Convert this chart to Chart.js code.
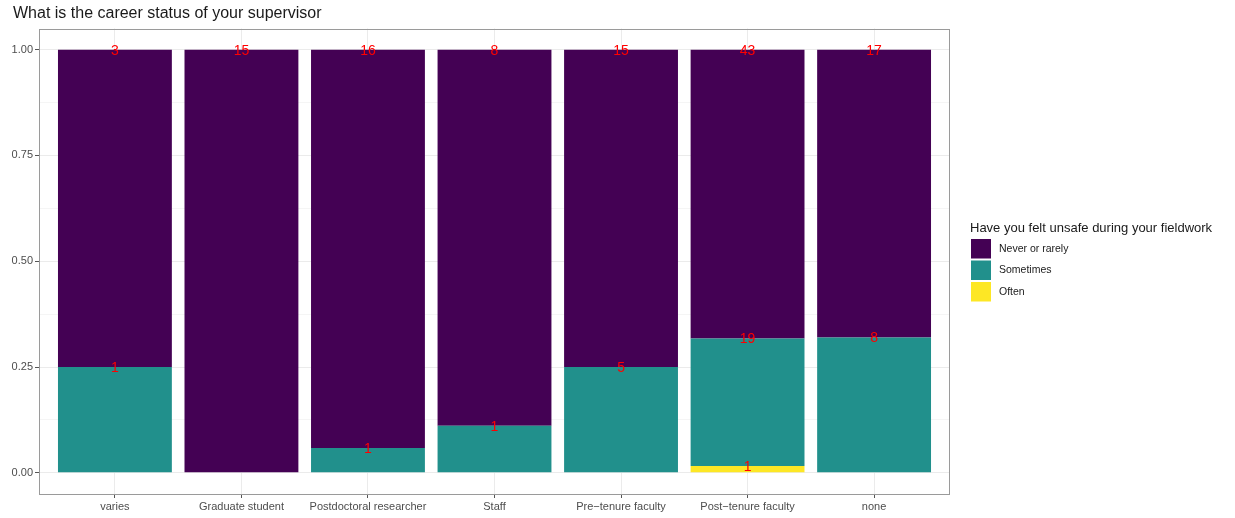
<!DOCTYPE html>
<html><head><meta charset="utf-8">
<script src="https://cdn.jsdelivr.net/npm/chart.js@4/dist/chart.umd.min.js"></script>
<style>html,body{margin:0;padding:0;background:#fff}#wrap{width:1235px;height:518px;position:relative}</style>
</head><body><div id="wrap"><canvas id="c"></canvas></div>
<script>
const chartTitle = "What is the career status of your supervisor";
const categories = ["varies","Graduate student","Postdoctoral researcher","Staff","Pre\u2212tenure faculty","Post\u2212tenure faculty","none"];
const neverRarely = [3,15,16,8,15,43,17];
const sometimes   = [1,0,1,1,5,19,8];
const often       = [0,0,0,0,0,1,0];
const seriesNames = ["Never or rarely","Sometimes","Often"];
const seriesColors = ["#440154","#21908C","#FDE725"];
const legendTitle = "Have you felt unsafe during your fieldwork";
const yMajorTicks = [0,0.25,0.5,0.75,1];
const yMinorTicks = [0.125,0.375,0.625,0.875];

const totals = categories.map((_, i) => neverRarely[i] + sometimes[i] + often[i]);
const toPoints = arr => arr.map((v, i) => ({x: i, y: v / totals[i]}));
const countsBySeries = [neverRarely, sometimes, often];

// stacking order: bottom "Often", then "Sometimes", top "Never or rarely"
const stackOrder = [2, 1, 0];
const datasets = stackOrder.map(s => ({
  label: seriesNames[s],
  data: toPoints(countsBySeries[s]),
  counts: countsBySeries[s],
  backgroundColor: seriesColors[s],
  borderWidth: 0,
  categoryPercentage: 1,
  barPercentage: 0.9
}));

const FONT = "'Liberation Sans', Arial, Helvetica, sans-serif";
Chart.defaults.font.family = FONT;

const isMajor = v => yMajorTicks.some(t => Math.abs(t - v) < 1e-9);

const labelPlugin = {
  id: 'segLabels',
  afterDatasetsDraw(chart) {
    const ctx = chart.ctx;
    ctx.save();
    ctx.fillStyle = '#FF0000';
    ctx.font = '14px ' + FONT;
    ctx.textAlign = 'center';
    ctx.textBaseline = 'middle';
    chart.data.datasets.forEach((ds, d) => {
      const meta = chart.getDatasetMeta(d);
      meta.data.forEach((el, j) => {
        const c = ds.counts[j];
        if (c > 0) ctx.fillText(String(c), el.x, el.y + 1);
      });
    });
    ctx.restore();
  }
};

const framePlugin = {
  id: 'frameLegend',
  afterDraw(chart) {
    const ctx = chart.ctx;
    const a = chart.chartArea;
    ctx.save();
    ctx.strokeStyle = '#9a9a9a';
    ctx.lineWidth = 1;
    ctx.strokeRect(Math.round(a.left) + 0.5, Math.round(a.top) + 0.5,
                   Math.round(a.right - a.left) - 1, Math.round(a.bottom - a.top) - 1);
    // title
    ctx.fillStyle = '#1a1a1a';
    ctx.font = '16px ' + FONT;
    ctx.textAlign = 'left';
    ctx.textBaseline = 'alphabetic';
    ctx.fillText(chartTitle, 13, 18);
    // legend
    const lx = a.right + 21;
    const cy = (a.top + a.bottom) / 2;
    const key = 20, step = 21.5;
    const n = seriesNames.length;
    const blockTop = cy - (18 + n * step) / 2;
    ctx.font = '13px ' + FONT;
    ctx.textBaseline = 'middle';
    ctx.fillText(legendTitle, lx - 1, blockTop + 8);
    ctx.font = '10.5px ' + FONT;
    seriesNames.forEach((name, i) => {
      const ky = blockTop + 19 + i * step;
      ctx.fillStyle = seriesColors[i];
      ctx.fillRect(lx, ky, key, key - 0.5);
      ctx.fillStyle = '#1a1a1a';
      ctx.fillText(name, lx + 28, ky + key / 2);
    });
    ctx.restore();
  }
};

new Chart(document.getElementById('c'), {
  type: 'bar',
  data: { datasets },
  options: {
    responsive: true,
    maintainAspectRatio: false,
    devicePixelRatio: 1,
    animation: false,
    layout: { padding: { left: 6, right: 285, top: 28.5, bottom: 0 } },
    plugins: {
      legend: { display: false },
      tooltip: { enabled: false },
      title: { display: false }
    },
    scales: {
      x: {
        type: 'linear', stacked: true, min: -0.6, max: 6.6, offset: false,
        afterBuildTicks: s => { s.ticks = categories.map((_, i) => ({ value: i })); },
        afterFit: s => { s.height = 24; },
        ticks: {
          autoSkip: false, maxRotation: 0, minRotation: 0, padding: 2,
          color: '#4d4d4d', font: { size: 11 },
          callback: v => categories[v]
        },
        grid: { color: '#ebebeb', lineWidth: 1, offset: false, drawTicks: true, tickLength: 4, tickColor: '#555' },
        border: { display: false }
      },
      y: {
        stacked: true, min: -0.05, max: 1.05,
        afterBuildTicks: s => { s.ticks = [...yMajorTicks, ...yMinorTicks].sort((a, b) => a - b).map(v => ({ value: v })); },
        afterFit: s => { s.width = 33; },
        ticks: {
          padding: 2, color: '#4d4d4d', font: { size: 11 },
          callback: v => isMajor(v) ? v.toFixed(2) : ''
        },
        grid: {
          color: c => isMajor(c.tick.value) ? '#ebebeb' : '#f5f5f5',
          lineWidth: 1, drawTicks: true, tickLength: 4,
          tickColor: c => isMajor(c.tick.value) ? '#555' : 'rgba(0,0,0,0)'
        },
        border: { display: false }
      }
    }
  },
  plugins: [labelPlugin, framePlugin]
});
</script>
</body></html>
